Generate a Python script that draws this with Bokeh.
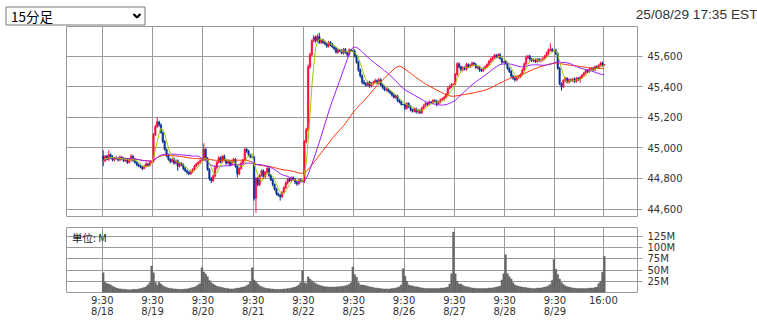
import numpy as np
import pandas as pd
from bokeh.plotting import figure
from bokeh.layouts import column, row
from bokeh.models import (Range1d, FixedTicker, NumeralTickFormatter,
                          PrintfTickFormatter, Label, Grid, LinearAxis)
from bokeh.core.properties import value
from bokeh.embed import file_html
from bokeh.resources import INLINE

# ---------------- data ----------------
days = ["8/18", "8/19", "8/20", "8/21", "8/22", "8/25", "8/26", "8/27", "8/28", "8/29"]
open_time = "9:30"
close_time = "16:00"
bars_per_day = 27          # 9:30 ... 15:45 plus the 16:00 closing print
interval_label = "15分足"
stamp = "25/08/29 17:35 EST"
unit_label = "単位: M"

first_open = 44946

close_818 = [44915, 44945, 44925, 44955, 44940, 44920, 44935, 44930, 44920, 44940, 44930, 44915, 44925, 44905,
             44920, 44945, 44920, 44905, 44890, 44880, 44875, 44865, 44880, 44895, 44885, 44905, 44912]
close_819 = [45085, 45140, 45170, 45150, 45100, 45040, 44990, 44950, 44925, 44910, 44925, 44900, 44915, 44880,
             44900, 44890, 44865, 44850, 44840, 44830, 44845, 44860, 44880, 44895, 44905, 44915, 44922]
close_820 = [44990, 44930, 44860, 44800, 44785, 44815, 44870, 44905, 44935, 44910, 44945, 44920, 44900, 44915,
             44890, 44910, 44925, 44880, 44830, 44865, 44900, 44920, 44990, 44980, 44955, 44940, 44938]
close_821 = [44670, 44800, 44760, 44820, 44850, 44810, 44840, 44865, 44820, 44790, 44760, 44730, 44700, 44690,
             44680, 44710, 44740, 44770, 44795, 44785, 44805, 44795, 44775, 44765, 44790, 44782, 44785]
close_822 = [45040, 45120, 45530, 45610, 45700, 45725, 45700, 45730, 45690, 45705, 45690, 45680, 45665, 45690,
             45675, 45660, 45650, 45625, 45640, 45635, 45620, 45645, 45625, 45610, 45640, 45635, 45632]
close_825 = [45600, 45560, 45510, 45470, 45430, 45420, 45410, 45430, 45405, 45420, 45430, 45440, 45425, 45445,
             45410, 45395, 45380, 45385, 45370, 45360, 45345, 45330, 45340, 45310, 45300, 45285, 45282]
close_826 = [45260, 45290, 45270, 45250, 45240, 45255, 45235, 45245, 45230, 45260, 45275, 45290, 45285, 45300,
             45295, 45310, 45305, 45290, 45300, 45315, 45320, 45330, 45350, 45390, 45400, 45415, 45418]
close_827 = [45480, 45550, 45530, 45510, 45525, 45515, 45545, 45530, 45540, 45555, 45545, 45525, 45530, 45510,
             45505, 45520, 45530, 45545, 45565, 45580, 45590, 45605, 45595, 45610, 45585, 45560, 45565]
close_828 = [45555, 45520, 45500, 45470, 45455, 45445, 45460, 45465, 45480, 45510, 45550, 45590, 45600, 45580,
             45570, 45575, 45565, 45580, 45570, 45575, 45585, 45600, 45620, 45640, 45645, 45635, 45637]
close_829 = [45615, 45520, 45420, 45400, 45440, 45455, 45430, 45445, 45440, 45450, 45435, 45455, 45445, 45460,
             45475, 45490, 45505, 45500, 45515, 45520, 45510, 45530, 45525, 45540, 45555, 45540, 45545]

# wick extents above max(open, close) and below min(open, close)
hi_818 = [39, 8, 10, 30, 9, 12, 7, 10, 8, 12, 6, 9, 11, 8, 10, 15, 7, 9, 6, 8, 10, 7, 9, 12, 6, 8, 2]
lo_818 = [35, 9, 7, 10, 12, 8, 10, 6, 9, 7, 11, 8, 6, 10, 7, 9, 12, 8, 10, 7, 9, 11, 6, 8, 10, 7, 2]
hi_819 = [12, 10, 28, 8, 9, 7, 11, 6, 10, 8, 9, 12, 7, 10, 8, 6, 9, 11, 7, 8, 10, 6, 9, 8, 7, 9, 2]
lo_819 = [8, 9, 10, 12, 7, 10, 8, 11, 9, 12, 7, 10, 8, 30, 9, 10, 12, 8, 14, 9, 7, 10, 8, 6, 9, 7, 2]
hi_820 = [40, 8, 10, 7, 9, 12, 15, 8, 10, 9, 7, 11, 8, 10, 6, 9, 10, 8, 7, 9, 11, 8, 10, 9, 7, 8, 2]
lo_820 = [9, 12, 10, 14, 15, 8, 9, 10, 7, 11, 9, 8, 10, 7, 12, 9, 8, 10, 25, 9, 8, 10, 7, 12, 9, 8, 2]
hi_821 = [10, 9, 12, 8, 10, 9, 7, 18, 9, 8, 10, 7, 9, 8, 10, 7, 9, 11, 8, 10, 7, 9, 8, 10, 7, 9, 2]
lo_821 = [15, 95, 12, 10, 8, 14, 9, 10, 12, 9, 11, 10, 12, 9, 25, 8, 10, 7, 9, 8, 10, 9, 12, 14, 8, 7, 2]
hi_822 = [10, 12, 15, 12, 10, 12, 9, 15, 23, 10, 9, 12, 8, 10, 9, 11, 8, 10, 9, 7, 10, 8, 9, 7, 10, 8, 2]
lo_822 = [15, 10, 12, 14, 10, 9, 12, 10, 9, 12, 10, 9, 11, 8, 10, 9, 12, 8, 10, 9, 8, 10, 9, 12, 8, 7, 2]
hi_825 = [12, 8, 10, 9, 12, 15, 10, 9, 8, 10, 9, 12, 8, 14, 10, 9, 8, 10, 7, 9, 8, 10, 9, 7, 8, 9, 2]
lo_825 = [10, 9, 12, 10, 14, 9, 10, 8, 12, 9, 10, 8, 9, 10, 8, 12, 9, 10, 8, 9, 10, 8, 9, 11, 9, 8, 2]
hi_826 = [9, 10, 8, 9, 7, 10, 8, 9, 7, 8, 10, 9, 8, 10, 7, 9, 8, 10, 9, 8, 10, 9, 8, 10, 12, 9, 2]
lo_826 = [12, 9, 10, 11, 9, 8, 10, 12, 9, 8, 10, 7, 9, 8, 10, 9, 8, 18, 9, 8, 7, 9, 8, 10, 9, 8, 2]
hi_827 = [10, 10, 9, 8, 10, 9, 12, 8, 10, 9, 8, 10, 9, 7, 8, 9, 10, 8, 9, 10, 8, 10, 9, 8, 10, 9, 2]
lo_827 = [9, 10, 12, 10, 9, 8, 10, 9, 8, 10, 9, 8, 10, 12, 9, 8, 10, 9, 8, 10, 9, 8, 10, 9, 8, 10, 2]
hi_828 = [10, 9, 8, 10, 9, 8, 10, 9, 8, 10, 9, 15, 8, 10, 9, 8, 10, 9, 8, 10, 9, 8, 10, 9, 39, 10, 2]
lo_828 = [10, 9, 10, 12, 10, 12, 9, 8, 10, 9, 8, 10, 9, 10, 8, 9, 10, 8, 9, 10, 8, 9, 8, 10, 9, 10, 2]
hi_829 = [12, 10, 9, 8, 10, 9, 8, 10, 9, 8, 10, 9, 8, 10, 9, 8, 10, 9, 8, 10, 9, 8, 10, 9, 9, 9, 2]
lo_829 = [10, 9, 10, 25, 9, 10, 8, 9, 10, 8, 10, 9, 8, 20, 9, 8, 10, 9, 8, 10, 9, 8, 10, 9, 8, 9, 2]

# volume, millions of shares
vol_818 = [44, 23, 20, 19, 17, 14, 12, 10, 9, 8, 8, 7, 7, 6, 6, 6, 7, 7, 7, 8, 9, 10, 11, 13, 17, 22, 59]
vol_819 = [44, 23, 17, 23, 19, 15, 13, 11, 10, 9, 9, 8, 8, 7, 7, 7, 7, 8, 8, 9, 10, 11, 12, 14, 17, 20, 55]
vol_820 = [46, 41, 35, 27, 22, 19, 16, 14, 13, 12, 11, 10, 9, 9, 8, 8, 8, 9, 10, 10, 11, 12, 13, 15, 18, 24, 55]
vol_821 = [28, 24, 19, 15, 13, 11, 10, 9, 9, 8, 8, 7, 7, 7, 7, 7, 8, 8, 9, 9, 10, 11, 12, 14, 17, 22, 49]
vol_822 = [22, 20, 35, 30, 26, 23, 20, 18, 16, 15, 14, 13, 13, 12, 12, 12, 12, 12, 13, 13, 14, 14, 15, 16, 18, 22, 57]
vol_825 = [40, 34, 22, 17, 17, 16, 15, 14, 13, 12, 11, 10, 10, 9, 9, 8, 8, 8, 8, 8, 9, 9, 10, 11, 13, 17, 53]
vol_826 = [36, 25, 17, 15, 15, 13, 13, 12, 11, 10, 10, 9, 9, 9, 9, 9, 9, 9, 9, 10, 10, 10, 11, 12, 19, 42, 135]
vol_827 = [42, 25, 19, 19, 16, 14, 13, 12, 11, 10, 10, 9, 9, 9, 9, 9, 9, 9, 10, 10, 10, 11, 12, 13, 14, 28, 42]
vol_828 = [84, 42, 35, 30, 22, 17, 15, 14, 13, 12, 11, 11, 10, 10, 9, 9, 9, 10, 10, 10, 11, 12, 13, 15, 18, 27, 74]
vol_829 = [52, 40, 30, 22, 18, 15, 13, 12, 11, 10, 10, 9, 9, 9, 9, 9, 9, 9, 10, 10, 10, 11, 12, 20, 25, 45, 81]

price_ticks = [44600, 44800, 45000, 45200, 45400, 45600]
vol_ticks = [25, 50, 75, 100, 125]
ma_periods = [50, 25, 5]

# ---------------- assemble ----------------
closes_by_day = [close_818, close_819, close_820, close_821, close_822,
                 close_825, close_826, close_827, close_828, close_829]
hi_by_day = [hi_818, hi_819, hi_820, hi_821, hi_822, hi_825, hi_826, hi_827, hi_828, hi_829]
lo_by_day = [lo_818, lo_819, lo_820, lo_821, lo_822, lo_825, lo_826, lo_827, lo_828, lo_829]
vol_by_day = [vol_818, vol_819, vol_820, vol_821, vol_822, vol_825, vol_826, vol_827, vol_828, vol_829]
for group in (closes_by_day, hi_by_day, lo_by_day, vol_by_day):
    for lst in group:
        assert len(lst) == bars_per_day, (len(lst), lst)

closes = np.array(sum(closes_by_day, []), dtype=float)
hi_ext = np.array(sum(hi_by_day, []), dtype=float)
lo_ext = np.array(sum(lo_by_day, []), dtype=float)
vols = np.array(sum(vol_by_day, []), dtype=float)
n = len(closes)
idx = np.arange(n) + 0.5
opens = np.concatenate([[first_open], closes[:-1]])
highs = np.maximum(opens, closes) + hi_ext
lows = np.minimum(opens, closes) - lo_ext
up = closes >= opens

RED = "#ff0a3c"
BLUE = "#0a3296"
GRID = "#9a9a9a"
TXT = "#333333"

day_ticks = [bars_per_day * d for d in range(len(days))] + [bars_per_day * (len(days) - 1) + bars_per_day - 1]
tick_labels = {t: f"{open_time}\n{d}" for t, d in zip(day_ticks[:-1], days)}
tick_labels[day_ticks[-1]] = close_time

x_range = Range1d(-19.2, 287.3)

W = 757
LEFT, RIGHT = 66, 120


def base_fig(h, top, bottom, y_range):
    f = figure(width=W, height=h, x_range=x_range, y_range=y_range,
               toolbar_location=None, output_backend="svg",
               min_border_left=LEFT, min_border_right=RIGHT,
               min_border_top=top, min_border_bottom=bottom,
               y_axis_location="right", x_axis_location=None)
    f.grid.visible = False
    f.outline_line_color = GRID
    f.outline_line_width = 1
    f.background_fill_color = "white"
    f.border_fill_color = "white"
    f.add_layout(Grid(dimension=0, ticker=FixedTicker(ticks=day_ticks),
                      grid_line_color=GRID, grid_line_width=1))
    ax = f.yaxis[0]
    ax.axis_line_color = None
    ax.major_tick_line_color = GRID
    ax.major_tick_out = 5
    ax.major_tick_in = 0
    ax.minor_tick_line_color = None
    ax.major_label_standoff = 5
    ax.major_label_text_font = "DejaVu Sans"
    ax.major_label_text_font_size = "10px"
    ax.major_label_text_color = TXT
    return f


# ---------------- header ----------------
HDR_H = 26
hdr = figure(width=W, height=HDR_H, x_range=Range1d(0, W), y_range=Range1d(HDR_H, 0),
             toolbar_location=None, output_backend="svg",
             min_border_left=0, min_border_right=0, min_border_top=0, min_border_bottom=0,
             x_axis_location=None, y_axis_location=None)
hdr.grid.visible = False
hdr.outline_line_color = None
hdr.background_fill_color = "white"
hdr.border_fill_color = "white"
hdr.quad(left=[5.5], right=[144.5], top=[6.5], bottom=[24.5],
         fill_color="white", line_color="#767676", line_width=1)
hdr.text(x=[10.5], y=[15.8], text=[interval_label], text_font=value("Noto Sans CJK JP"),
         text_font_size="13.5px", text_baseline="middle", text_color="black")
hdr.line(x=[133, 136.5, 140], y=[13.5, 17, 13.5], line_color="black", line_width=2.2)
hdr.text(x=[757], y=[14], text=[stamp], text_font=value("Liberation Sans"),
         text_font_size="13.7px", text_align="right", text_baseline="middle",
         text_color=TXT)

# ---------------- price panel ----------------
p = base_fig(196, 0, 6, Range1d(44551, 45794))
p.add_layout(Grid(dimension=1, ticker=FixedTicker(ticks=price_ticks),
                  grid_line_color=GRID, grid_line_width=1))
p.yaxis.ticker = FixedTicker(ticks=price_ticks)
p.yaxis.formatter = NumeralTickFormatter(format="0,0")

colors = np.where(up, RED, BLUE)
p.segment(x0=idx, y0=lows, x1=idx, y1=highs, line_color=colors, line_width=1)
p.vbar(x=idx, top=np.maximum(opens, closes), bottom=np.minimum(opens, closes),
       width=0.75, fill_color=colors, line_color=colors, line_width=0.6)

ma_colors = {50: "#ff3300", 25: "#9a1aff", 5: "#99cc00"}
for per in ma_periods:
    ma = pd.Series(closes).rolling(per, min_periods=1).mean().to_numpy()
    p.line(idx, ma, line_color=ma_colors[per], line_width=1)

# ---------------- volume panel ----------------
v = base_fig(98, 5, 24, Range1d(0, 145))
v.add_layout(Grid(dimension=1, ticker=FixedTicker(ticks=vol_ticks),
                  grid_line_color=GRID, grid_line_width=1))
v.yaxis.ticker = FixedTicker(ticks=vol_ticks)
v.yaxis.formatter = PrintfTickFormatter(format="%dM")
v.vbar(x=idx, top=vols, bottom=0, width=1.0, fill_color="#666666",
       line_color="#666666", line_width=0.4)

xa = LinearAxis(ticker=FixedTicker(ticks=day_ticks), major_label_overrides=tick_labels)
xa.axis_line_color = None
xa.major_tick_line_color = None
xa.major_tick_out = 0
xa.major_tick_in = 0
xa.minor_tick_line_color = None
xa.minor_tick_out = 0
xa.minor_tick_in = 0
xa.major_label_standoff = 2
xa.major_label_text_font = "DejaVu Sans"
xa.major_label_text_font_size = "10px"
xa.major_label_text_line_height = 1.05
xa.major_label_text_color = TXT
v.add_layout(xa, "below")

v.add_layout(Label(x=-16.3, y=122.4, text=unit_label, text_font="Noto Sans CJK JP",
                   text_font_size="10.5px", text_color="#222222", text_baseline="alphabetic"))

layout = column(row(hdr), p, v, spacing=0)
open("out.html", "w").write(file_html(layout, INLINE))
